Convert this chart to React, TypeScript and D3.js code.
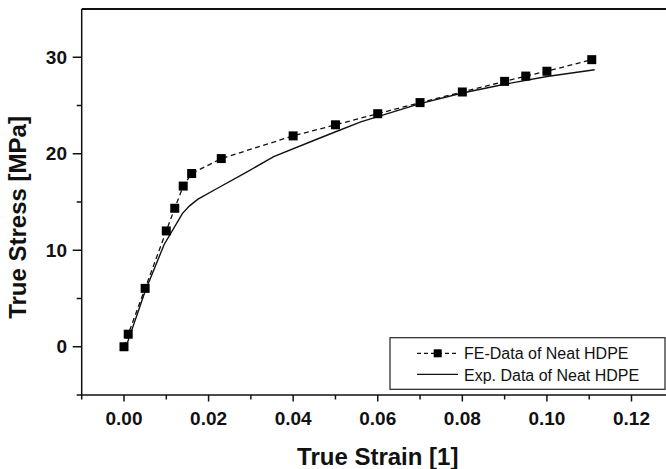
import React from "react";
import * as d3 from "d3";

const feStrain = [0, 0.001, 0.005, 0.010, 0.012, 0.014, 0.016, 0.023, 0.040, 0.050, 0.060, 0.070, 0.080, 0.090, 0.095, 0.100, 0.1106];
const feStress = [0, 1.3, 6.05, 12.0, 14.35, 16.65, 17.95, 19.5, 21.85, 23.0, 24.15, 25.3, 26.4, 27.5, 28.05, 28.55, 29.75];

const expStrain = [0.0008, 0.005, 0.0095, 0.0138, 0.0155, 0.0175, 0.022, 0.029, 0.0354, 0.045, 0.0496, 0.056, 0.060, 0.070, 0.080, 0.090, 0.100, 0.1113];
const expStress = [0.4, 5.75, 10.6, 13.8, 14.6, 15.3, 16.4, 18.1, 19.7, 21.4, 22.2, 23.3, 23.85, 25.2, 26.3, 27.2, 28.0, 28.7];

const xMajorTicks = [0, 0.02, 0.04, 0.06, 0.08, 0.1, 0.12];
const xMinorTicks = [-0.01, 0.01, 0.03, 0.05, 0.07, 0.09, 0.11];
const yMajorTicks = [0, 10, 20, 30];
const yMinorTicks = [-5, 5, 15, 25];

const seriesLabels = ["FE-Data of Neat HDPE", "Exp. Data of Neat HDPE"];
const xTitle = "True Strain [1]";
const yTitle = "True Stress [MPa]";

const W = 666;
const H = 469;
const FONT = "'Liberation Sans', Arial, sans-serif";

export default function App() {
  const left = 81.7;
  const right = 673.8;
  const top = 9;
  const bottom = 395;
  const x = d3.scaleLinear().domain([-0.01, 0.13]).range([left, right]);
  const y = d3.scaleLinear().domain([-5, 35]).range([bottom, top]);

  const fePts = feStrain.map((s, i) => [s, feStress[i]] as [number, number]);
  const expPts = expStrain.map((s, i) => [s, expStress[i]] as [number, number]);
  const line = d3
    .line<[number, number]>()
    .x((d) => x(d[0]))
    .y((d) => y(d[1]));

  const ms = 9;
  const xFmt = d3.format(".2f");

  return (
    <svg
      width={W}
      height={H}
      style={{ position: "absolute", left: 0, top: 0, display: "block", background: "#fff" }}
      fontFamily={FONT}
    >
      <rect x={0} y={0} width={W} height={H} fill="#fff" />
      {/* frame */}
      <line x1={left} x2={right} y1={top} y2={top} stroke="#111" strokeWidth={1.8} />
      <line x1={left} x2={left} y1={top} y2={bottom} stroke="#111" strokeWidth={1.5} />
      <line x1={left} x2={right} y1={bottom} y2={bottom} stroke="#111" strokeWidth={1.5} />

      {/* x ticks */}
      {xMajorTicks.map((t) => (
        <g key={"xM" + t}>
          <line x1={x(t)} x2={x(t)} y1={bottom} y2={bottom + 6.5} stroke="#111" strokeWidth={1.5} />
          <text x={x(t)} y={424.5} textAnchor="middle" fontSize={19} fontWeight="bold" fill="#111">
            {xFmt(t)}
          </text>
        </g>
      ))}
      {xMinorTicks.map((t) => (
        <line key={"xm" + t} x1={x(t)} x2={x(t)} y1={bottom} y2={bottom + 4.5} stroke="#111" strokeWidth={1.5} />
      ))}

      {/* y ticks */}
      {yMajorTicks.map((t) => (
        <g key={"yM" + t}>
          <line x1={left - 9} x2={left} y1={y(t)} y2={y(t)} stroke="#111" strokeWidth={1.5} />
          <text x={67} y={y(t)} dy="0.35em" textAnchor="end" fontSize={19} fontWeight="bold" fill="#111">
            {t}
          </text>
        </g>
      ))}
      {yMinorTicks.map((t) => (
        <line key={"ym" + t} x1={left - 5} x2={left} y1={y(t)} y2={y(t)} stroke="#111" strokeWidth={1.5} />
      ))}

      {/* titles */}
      <text x={(left + right) / 2} y={465} textAnchor="middle" fontSize={24} fontWeight="bold" fill="#111">
        {xTitle}
      </text>
      <text
        transform={`translate(26, 217.5) rotate(-90)`}
        textAnchor="middle"
        fontSize={24}
        fontWeight="bold"
        fill="#111"
      >
        {yTitle}
      </text>

      {/* exp line */}
      <path d={line(expPts) || ""} fill="none" stroke="#111" strokeWidth={1.4} />
      {/* fe line */}
      <path d={line(fePts) || ""} fill="none" stroke="#111" strokeWidth={1.3} strokeDasharray="5,3.5" />
      {fePts.map((d, i) => (
        <rect key={"m" + i} x={x(d[0]) - ms / 2} y={y(d[1]) - ms / 2} width={ms} height={ms} fill="#000" />
      ))}

      {/* legend */}
      <rect x={390} y={337.7} width={275} height={51.6} fill="#fff" stroke="#222" strokeWidth={1.2} />
      <line x1={417} x2={458} y1={353.3} y2={353.3} stroke="#111" strokeWidth={1.3} strokeDasharray="4,3" />
      <rect x={437.7 - 4} y={353.3 - 4} width={8} height={8} fill="#000" />
      <text x={464} y={359} fontSize={16} fill="#111">
        {seriesLabels[0]}
      </text>
      <line x1={417} x2={458} y1={374.3} y2={374.3} stroke="#111" strokeWidth={1.3} />
      <text x={464} y={380.7} fontSize={16} fill="#111">
        {seriesLabels[1]}
      </text>
    </svg>
  );
}
